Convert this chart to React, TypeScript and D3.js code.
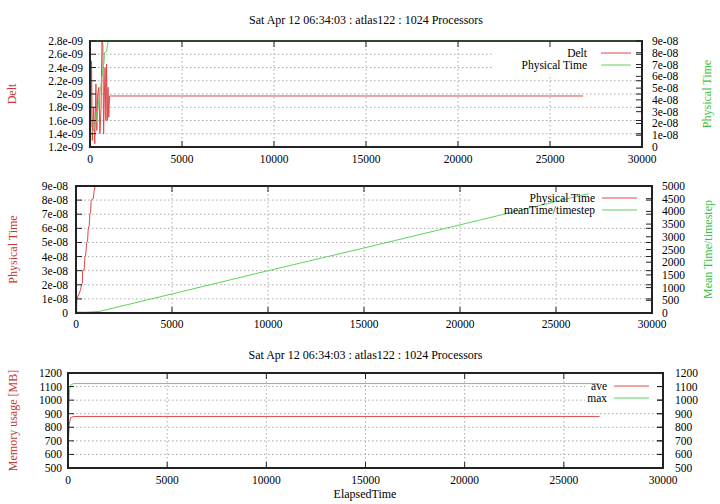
import React from "react";
import * as d3 from "d3";

// ---- data ----
const xTicks = [0, 5000, 10000, 15000, 20000, 25000, 30000];
const xLabels = ["0", "5000", "10000", "15000", "20000", "25000", "30000"];

const deltX = [0, 40, 80, 130, 200, 260, 320, 370, 420, 480, 540, 600, 650, 700, 740, 780, 820, 860, 900, 940, 980, 1020, 1060, 1100, 26800];
const deltY = [2.6e-9, 1.5e-9, 2.5e-9, 1.3e-9, 1.8e-9, 1.25e-9, 2.15e-9, 1.45e-9, 2.0e-9, 2.1e-9, 1.4e-9, 1.8e-9, 2.8e-9, 2.75e-9, 1.4e-9, 2.0e-9, 2.4e-9, 1.6e-9, 2.45e-9, 1.6e-9, 2.1e-9, 1.65e-9, 1.97e-9, 1.97e-9, 1.97e-9];

const physX = [0, 30, 45, 230, 290, 330, 345, 420, 470, 500, 560, 600, 640, 690, 720, 760, 790, 900, 940, 1000, 1050, 1100];
const physY = [0, 0, 1e-8, 1.6e-8, 2e-8, 2.1e-8, 3e-8, 3.05e-8, 4e-8, 4.1e-8, 5e-8, 5.1e-8, 6e-8, 6.2e-8, 7e-8, 7.1e-8, 8e-8, 8.1e-8, 8.6e-8, 9e-8, 9.5e-8, 1e-7];

const meanX = [0, 500, 1200, 5000, 10000, 15000, 20000, 26700];
const meanY = [40, 30, 60, 750, 1665, 2560, 3470, 4700];

const aveX = [0, 20, 60, 130, 250, 500, 26800];
const aveY = [600, 700, 820, 870, 878, 880, 880];
const maxX = [0, 30, 80, 150, 300, 26800];
const maxY = [760, 900, 1080, 1115, 1122, 1122];

const deltTicks = [1.2e-9, 1.4e-9, 1.6e-9, 1.8e-9, 2.0e-9, 2.2e-9, 2.4e-9, 2.6e-9, 2.8e-9];
const deltLabels = ["1.2e-09", "1.4e-09", "1.6e-09", "1.8e-09", "2e-09", "2.2e-09", "2.4e-09", "2.6e-09", "2.8e-09"];
const physTicks = [0, 1e-8, 2e-8, 3e-8, 4e-8, 5e-8, 6e-8, 7e-8, 8e-8, 9e-8];
const physLabels = ["0", "1e-08", "2e-08", "3e-08", "4e-08", "5e-08", "6e-08", "7e-08", "8e-08", "9e-08"];
const meanTicks = [0, 500, 1000, 1500, 2000, 2500, 3000, 3500, 4000, 4500, 5000];
const meanLabels = meanTicks.map(String);
const memTicks = [500, 600, 700, 800, 900, 1000, 1100, 1200];
const memLabels = memTicks.map(String);

const title = "Sat Apr 12 06:34:03 : atlas122 : 1024 Processors";

const RED = "#e04848";
const GREEN = "#5cd45c";
const RED_TXT = "#c43a3a";
const GREEN_TXT = "#3cc03c";
const FONT = '"Liberation Serif", "DejaVu Serif", "Times New Roman", serif';

type Series = { xs: number[]; ys: number[]; axis: 1 | 2; color: string };

type PanelProps = {
  id: string;
  left: number; right: number; top: number; bottom: number;
  yDomain: [number, number]; yTicks: number[]; yLabels: string[];
  y2Domain: [number, number]; y2Ticks: number[]; y2Labels: string[];
  series: Series[];
  legend: { labels: string[]; colors: string[]; boxLeft: number; boxBottom: number; textRight: number; l0: number; l1: number; row0: number; gap: number };
  yTitle: { text: string; x: number; color: string };
  y2Title?: { text: string; x: number; color: string };
  heading?: number;
  xLabelY: number;
  leftPad: number; rightPad: number;
  topColor?: string;
};

const txt = { fontFamily: FONT, fontSize: 12 };
const tick = { fontFamily: FONT, fontSize: 11.5 };

const Panel = (p: PanelProps) => {
  const x = d3.scaleLinear().domain([0, 30000]).range([p.left, p.right]);
  const y = d3.scaleLinear().domain(p.yDomain).range([p.bottom, p.top]);
  const y2 = d3.scaleLinear().domain(p.y2Domain).range([p.bottom, p.top]);
  const tl = 6;
  const grid = "#aaaaaa";
  return (
    <g>
      <defs>
        <clipPath id={p.id}>
          <rect x={p.left} y={p.top} width={p.right - p.left} height={p.bottom - p.top} />
        </clipPath>
      </defs>
      {p.heading !== undefined && (
        <text x={(p.left + p.right) / 2} y={p.heading} textAnchor="middle" style={txt}>{title}</text>
      )}
      {/* grid */}
      {xTicks.slice(1, -1).map((t) => (
        <line key={"gx" + t} x1={x(t)} x2={x(t)} y1={p.top} y2={p.bottom} stroke={grid} strokeDasharray="1.5,2.5" />
      ))}
      {p.yTicks.slice(1, -1).map((t) => (
        <line key={"gy" + t} x1={p.left} x2={p.right} y1={y(t)} y2={y(t)} stroke={grid} strokeDasharray="1.5,2.5" />
      ))}
      <rect x={p.legend.boxLeft} y={p.top} width={p.right - p.legend.boxLeft} height={p.legend.boxBottom - p.top} fill="#fff" />
      {/* data */}
      <g clipPath={`url(#${p.id})`}>
        {p.series.map((s, i) => {
          const sy = s.axis === 1 ? y : y2;
          const line = d3.line<number>().x((_, j) => x(s.xs[j])).y((v) => sy(v));
          return <path key={i} d={line(s.ys) || ""} fill="none" stroke={s.color} strokeWidth={1} />;
        })}
      </g>
      {/* legend */}
      {p.legend.labels.map((l, i) => {
        const ry = p.legend.row0 + i * p.legend.gap;
        return (
          <g key={l}>
            <text x={p.legend.textRight} y={ry + 4} textAnchor="end" style={tick}>{l}</text>
            <line x1={p.legend.l0} x2={p.legend.l1} y1={ry} y2={ry} stroke={p.legend.colors[i]} strokeWidth={1} />
          </g>
        );
      })}
      {/* border */}
      <rect x={p.left} y={p.top} width={p.right - p.left} height={p.bottom - p.top} fill="none" stroke="#222" strokeWidth={2} />
      {p.topColor && <line x1={p.left} x2={p.right} y1={p.top} y2={p.top} stroke={p.topColor} strokeWidth={2} />}
      {/* ticks */}
      {xTicks.map((t, i) => (
        <g key={"xt" + t}>
          <line x1={x(t)} x2={x(t)} y1={p.bottom} y2={p.bottom - tl} stroke="#222" />
          <line x1={x(t)} x2={x(t)} y1={p.top} y2={p.top + tl} stroke="#222" />
          <text x={x(t)} y={p.xLabelY} textAnchor="middle" style={tick}>{xLabels[i]}</text>
        </g>
      ))}
      {p.yTicks.map((t, i) => (
        <g key={"yt" + t}>
          <line x1={p.left} x2={p.left + tl} y1={y(t)} y2={y(t)} stroke="#222" />
          <line x1={p.right} x2={p.right - tl} y1={y(t)} y2={y(t)} stroke="#222" />
          <text x={p.left - p.leftPad} y={y(t) + 4} textAnchor="end" style={tick}>{p.yLabels[i]}</text>
        </g>
      ))}
      {p.y2Ticks.map((t, i) => (
        <g key={"y2t" + t}>
          <line x1={p.right} x2={p.right - tl} y1={y2(t)} y2={y2(t)} stroke="#222" />
          <text x={p.right + p.rightPad} y={y2(t) + 4} textAnchor="start" style={tick}>{p.y2Labels[i]}</text>
        </g>
      ))}
      <text transform={`translate(${p.yTitle.x + 4},${(p.top + p.bottom) / 2}) rotate(-90)`} textAnchor="middle" style={txt} fill={p.yTitle.color}>{p.yTitle.text}</text>
      {p.y2Title && (
        <text transform={`translate(${p.y2Title.x + 4},${(p.top + p.bottom) / 2}) rotate(-90)`} textAnchor="middle" style={txt} fill={p.y2Title.color}>{p.y2Title.text}</text>
      )}
    </g>
  );
};

export default function App() {
  return (
    <svg width={720} height={504} style={{ position: "absolute", left: 0, top: 0, background: "#fff", fontFamily: FONT }}>
      <rect width={720} height={504} fill="#fff" />
      <Panel
        id="c1" left={90} right={642} top={41} bottom={147}
        yDomain={[1.2e-9, 2.8e-9]} yTicks={deltTicks} yLabels={deltLabels}
        y2Domain={[0, 9e-8]} y2Ticks={physTicks} y2Labels={physLabels}
        series={[
          { xs: deltX, ys: deltY, axis: 1, color: RED },
          { xs: physX, ys: physY, axis: 2, color: GREEN },
        ]}
        legend={{ labels: ["Delt", "Physical Time"], colors: [RED, GREEN], boxLeft: 493, boxBottom: 74, textRight: 587, l0: 601, l1: 631, row0: 53, gap: 12 }}
        yTitle={{ text: "Delt", x: 12, color: RED_TXT }}
        y2Title={{ text: "Physical Time", x: 707, color: GREEN_TXT }}
        heading={24} xLabelY={163} leftPad={7} rightPad={10} topColor="#2d4a2d"
      />
      <Panel
        id="c2" left={76} right={652} top={186} bottom={313}
        yDomain={[0, 9e-8]} yTicks={physTicks} yLabels={physLabels}
        y2Domain={[0, 5000]} y2Ticks={meanTicks} y2Labels={meanLabels}
        series={[
          { xs: physX, ys: physY, axis: 1, color: RED },
          { xs: meanX, ys: meanY, axis: 2, color: GREEN },
        ]}
        legend={{ labels: ["Physical Time", "meanTime/timestep"], colors: [RED, GREEN], boxLeft: 472, boxBottom: 218, textRight: 595, l0: 602, l1: 637, row0: 198, gap: 12 }}
        yTitle={{ text: "Physical Time", x: 13, color: RED_TXT }}
        y2Title={{ text: "Mean Time/timestep", x: 708, color: GREEN_TXT }}
        xLabelY={328} leftPad={8} rightPad={10}
      />
      <Panel
        id="c3" left={68} right={663} top={373} bottom={468}
        yDomain={[500, 1200]} yTicks={memTicks} yLabels={memLabels}
        y2Domain={[500, 1200]} y2Ticks={memTicks} y2Labels={memLabels}
        series={[
          { xs: aveX, ys: aveY, axis: 1, color: RED },
          { xs: maxX, ys: maxY, axis: 1, color: GREEN },
        ]}
        legend={{ labels: ["ave", "max"], colors: [RED, GREEN], boxLeft: 585, boxBottom: 407, textRight: 607, l0: 614, l1: 649, row0: 386, gap: 12 }}
        yTitle={{ text: "Memory usage [MB]", x: 13, color: RED_TXT }}
        heading={359} xLabelY={484} leftPad={6} rightPad={12}
      />
      <text x={365} y={498} textAnchor="middle" style={txt}>ElapsedTime</text>
    </svg>
  );
}
